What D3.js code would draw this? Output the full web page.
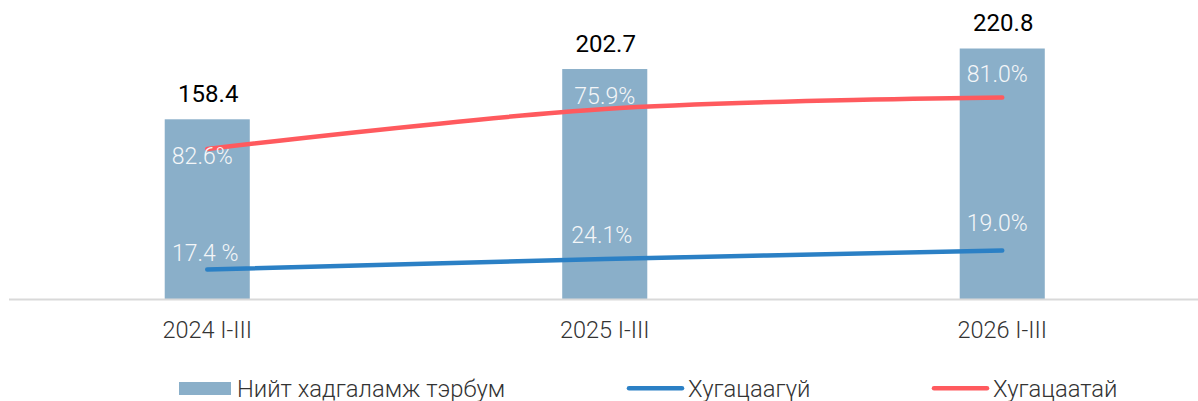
<!DOCTYPE html>
<html>
<head>
<meta charset="utf-8">
<script src="https://cdn.jsdelivr.net/npm/d3@7"></script>
<style>
  body { margin: 0; background: #fff; }
  svg { display: block; font-family: Roboto, "Noto Sans", sans-serif; }
</style>
</head>
<body>
<div id="chart"></div>
<script>
// data
var categories = ["2024 I-III", "2025 I-III", "2026 I-III"];
var totalDeposits = [158.4, 202.7, 220.8];        // Нийт хадгаламж тэрбум
var demandAmount = [26.0, 35.2, 42.8];            // Хугацаагүй (plotted)
var termAmount = [132.2, 167.5, 177.6];           // Хугацаатай (plotted)
var demandLabels = ["17.4 %", "24.1%", "19.0%"];
var termLabels = ["82.6%", "75.9%", "81.0%"];
var legendNames = ["Нийт хадгаламж тэрбум", "Хугацаагүй", "Хугацаатай"];

var width = 1198, height = 401;
var barColor = "#8aafc9", blue = "#2b80c5", red = "#ff5a5e";

var svg = d3.select("#chart").append("svg")
  .attr("width", width)
  .attr("height", height);

var x = d3.scaleBand()
  .domain(categories)
  .range([8.5, 1201])
  .paddingInner(0.786)
  .paddingOuter(0.393);

var y = d3.scaleLinear()
  .domain([0, 250])
  .range([299, 299 - 250 * 1.1345]);

// bars
svg.append("g").selectAll("rect")
  .data(totalDeposits)
  .enter().append("rect")
  .attr("x", function (d, i) { return x(categories[i]); })
  .attr("y", function (d) { return y(d); })
  .attr("width", x.bandwidth())
  .attr("height", function (d) { return y(0) - y(d); })
  .attr("fill", barColor);

// axis line
var xAxis = svg.append("g")
  .attr("transform", "translate(0," + y(0) + ")")
  .call(d3.axisBottom(x).tickSize(0).tickPadding(0));
xAxis.select(".domain")
  .attr("d", "M9,0.5H1198")
  .attr("stroke", "#d9d9d9")
  .attr("stroke-width", 2);
xAxis.selectAll(".tick text")
  .attr("dy", null)
  .attr("y", 39)
  .attr("font-size", 23.5)
  .attr("font-weight", 300)
  .attr("font-family", "Roboto")
  .attr("fill", "#333");

// value labels over bars
svg.append("g").selectAll("text")
  .data(totalDeposits)
  .enter().append("text")
  .attr("x", function (d, i) { return x(categories[i]) + x.bandwidth() / 2 + 1; })
  .attr("y", function (d) { return y(d) - 17.5; })
  .attr("text-anchor", "middle")
  .attr("font-size", 24)
  .attr("fill", "#000")
  .text(function (d) { return d.toFixed(1); });

// lines
var cx = function (i) { return x(categories[i]) + x.bandwidth() / 2; };
var line = d3.line()
  .x(function (d, i) { return cx(i); })
  .y(function (d) { return y(d); })
  .curve(d3.curveCatmullRom.alpha(0.5));

var series = [
  { values: demandAmount, labels: demandLabels, color: blue, dy: [-9, -16, -19], dx: [-2, -3, -5] },
  { values: termAmount, labels: termLabels, color: red, dy: [15, -5, -16], dx: [-5, 0, -5] }
];

series.forEach(function (s) {
  svg.append("path")
    .datum(s.values)
    .attr("d", line)
    .attr("fill", "none")
    .attr("stroke", s.color)
    .attr("stroke-width", 4.5)
    .attr("stroke-linecap", "round");
});

series.forEach(function (s) {
  svg.append("g").selectAll("text")
    .data(s.values)
    .enter().append("text")
    .attr("x", function (d, i) { return cx(i) + s.dx[i]; })
    .attr("y", function (d, i) { return y(d) + s.dy[i]; })
    .attr("text-anchor", "middle")
    .attr("font-size", 23)
    .attr("font-weight", 300)
    .attr("fill", "#f4f6f8")
    .text(function (d, i) { return s.labels[i]; });
});

// legend
var legend = svg.append("g").attr("font-size", 23.8).attr("font-weight", 300).attr("fill", "#333");
legend.append("rect")
  .attr("x", 179).attr("y", 382).attr("width", 52).attr("height", 13)
  .attr("fill", barColor);
legend.append("text").attr("x", 237).attr("y", 396.5).text(legendNames[0]);

[[628, blue, legendNames[1]], [933, red, legendNames[2]]].forEach(function (l) {
  legend.append("line")
    .attr("x1", l[0] + 1).attr("x2", l[0] + 54)
    .attr("y1", 388.3).attr("y2", 388.3)
    .attr("stroke", l[1]).attr("stroke-width", 4.5)
    .attr("stroke-linecap", "round");
  legend.append("text").attr("x", l[0] + 60).attr("y", 396.5).text(l[2]);
});
</script>
</body>
</html>
